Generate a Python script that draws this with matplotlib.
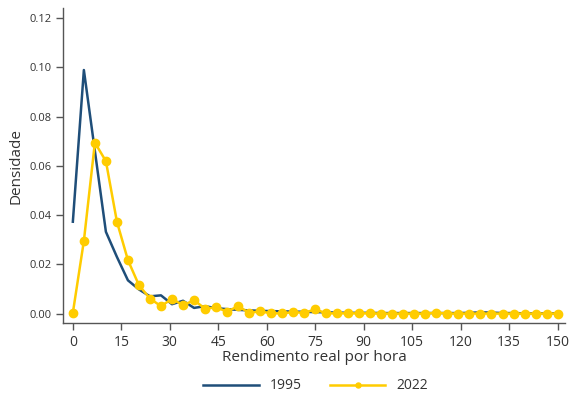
import matplotlib.pyplot as plt
import numpy as np

plt.rcParams['font.family'] = ['Open Sans', 'DejaVu Sans']

# 45 points, evenly spaced from 0 to 150
renda = np.linspace(0, 150, 45)

dens_1995 = [0.0373, 0.0989, 0.0660, 0.0332, 0.0230, 0.0135, 0.0098, 0.0070, 0.0074,
             0.0038, 0.0052, 0.0023, 0.0030, 0.0022, 0.0018, 0.0015, 0.0013, 0.0011,
             0.0010, 0.0009, 0.0008, 0.0007, 0.0006, 0.0005, 0.0004, 0.0003, 0.0003,
             0.0003, 0.0002, 0.0002, 0.0002, 0.0002, 0.0002, 0.0002, 0.0002, 0.0002,
             0.0003, 0.0005, 0.0004, 0.0002, 0.0002, 0.0001, 0.0001, 0.0001, 0.0001]

dens_2022 = [0.0003, 0.0295, 0.0694, 0.0619, 0.0373, 0.0217, 0.0115, 0.0061, 0.0030,
             0.0060, 0.0034, 0.0054, 0.0020, 0.0025, 0.0008, 0.0030, 0.0003, 0.0009,
             0.0001, 0.0001, 0.0006, 0.0003, 0.0017, 0.0001, 0.0001, 0.0001, 0.0001,
             0.0001, 0.0000, 0.0000, 0.0000, 0.0000, 0.0000, 0.0004, 0.0000, 0.0000,
             0.0000, 0.0000, 0.0000, 0.0000, 0.0000, 0.0000, 0.0000, 0.0000, 0.0000]

azul = '#1f4e79'
amarelo = '#ffcc00'
cinza = '#555555'

fig = plt.figure(figsize=(5.69, 3.98), dpi=100)
ax = fig.add_axes([0.111, 0.188, 0.882, 0.792])

ax.plot(renda, dens_1995, color=azul, lw=1.8, label='1995')
ax.plot(renda, dens_2022, color=amarelo, lw=1.8, marker='o', ms=6, label='2022')

ax.set_xlim(-3, 152.3)
ax.set_ylim(-0.0039, 0.1241)
ax.set_xticks(np.arange(0, 151, 15))
ax.set_yticks(np.arange(0, 0.121, 0.02))
ax.yaxis.set_major_formatter(plt.FormatStrFormatter('%.2f'))

for s in ['top', 'right']:
    ax.spines[s].set_visible(False)
for s in ['left', 'bottom']:
    ax.spines[s].set_color(cinza)
    ax.spines[s].set_linewidth(1)

ax.tick_params(axis='both', colors=cinza, labelcolor='#333333', length=5, width=1)
ax.tick_params(axis='y', labelsize=8)
ax.tick_params(axis='x', labelsize=10)

ax.set_xlabel('Rendimento real por hora', fontsize=11, color='#333333', labelpad=0)
ax.set_ylabel('Densidade', fontsize=11, color='#333333', labelpad=4)

fig.legend(loc='lower center', ncol=2, frameon=False, fontsize=10,
           bbox_to_anchor=(0.555, -0.02), handlelength=4, columnspacing=2,
           markerscale=0.6, labelcolor='#333333')

fig.savefig('out.png', dpi=100)
